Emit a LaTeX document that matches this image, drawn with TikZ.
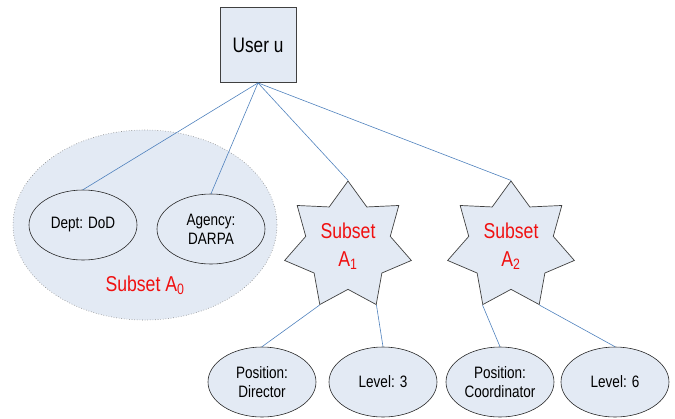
\documentclass[tikz,border=0pt]{standalone}
\usepackage{fontspec}
\setmainfont[FakeStretch=0.82]{Liberation Sans}
\usetikzlibrary{shapes.geometric}
\definecolor{boxfill}{HTML}{E3EAF4}
\definecolor{linkblue}{HTML}{4F81BD}
\definecolor{rimgray}{HTML}{404040}
\definecolor{subsetred}{HTML}{F01010}
\tikzset{
  userbox/.style={draw=rimgray,fill=boxfill,line width=0.8pt,
                  minimum width=76pt,minimum height=75pt,inner sep=0pt,
                  font=\fontsize{21}{24}\selectfont},
  attr/.style={draw=black!85,fill=boxfill,ellipse,line width=0.6pt,
               minimum width=108pt,minimum height=70pt,inner sep=0pt,
               align=center,font=\fontsize{16.5}{19}\selectfont},
  setzone/.style={draw=gray,dotted,fill=boxfill,ellipse,line width=0.6pt,
                  minimum width=264pt,minimum height=190pt},
  subset/.style={draw=rimgray,fill=boxfill,star,star points=7,
                 star point ratio=1.5,minimum size=130pt,inner sep=0pt,
                 line width=0.7pt,align=center,text=subsetred,
                 font=\fontsize{21.5}{24}\selectfont},
  setname/.style={text=subsetred,font=\fontsize{21.5}{24}\selectfont},
  link/.style={draw=linkblue,line width=0.6pt}
}
\begin{document}
\begin{tikzpicture}[x=1pt,y=-1pt]
  \useasboundingbox (0,0) rectangle (675,418);
  % user and the first subset
  \node[userbox] (user) at (258,45) {User u};
  \node[setzone] (a0) at (145,225) {};
  \node[attr] (dod) at (83,225) {Dept: DoD};
  \node[attr] (darpa) at (211,229) {Agency:\\DARPA};
  \node[setname] (a0name) at (145,285) {Subset A\textsubscript{0}};
  % star subsets
  \node[subset] (a1) at (348,246) {Subset\\[4pt]A\textsubscript{1}};
  \node[subset] (a2) at (511,246) {Subset\\[4pt]A\textsubscript{2}};
  % attributes
  \node[attr] (director) at (262,382) {Position:\\Director};
  \node[attr] (lvl3) at (383,382) {Level: 3};
  \node[attr] (coord) at (500,382) {Position:\\Coordinator};
  \node[attr] (lvl6) at (615,382) {Level: 6};
  % links
  \draw[link] (user.south) -- (dod.north);
  \draw[link] (user.south) -- (darpa.north);
  \draw[link] (user.south) -- (a1.outer point 1);
  \draw[link] (user.south) -- (a2.outer point 1);
  \draw[link] (a1.outer point 4) -- (director.north);
  \draw[link] (a1.outer point 5) -- (lvl3.north);
  \draw[link] (a2.outer point 4) -- (coord.north);
  \draw[link] (a2.outer point 5) -- (lvl6.north);
\end{tikzpicture}
\end{document}
